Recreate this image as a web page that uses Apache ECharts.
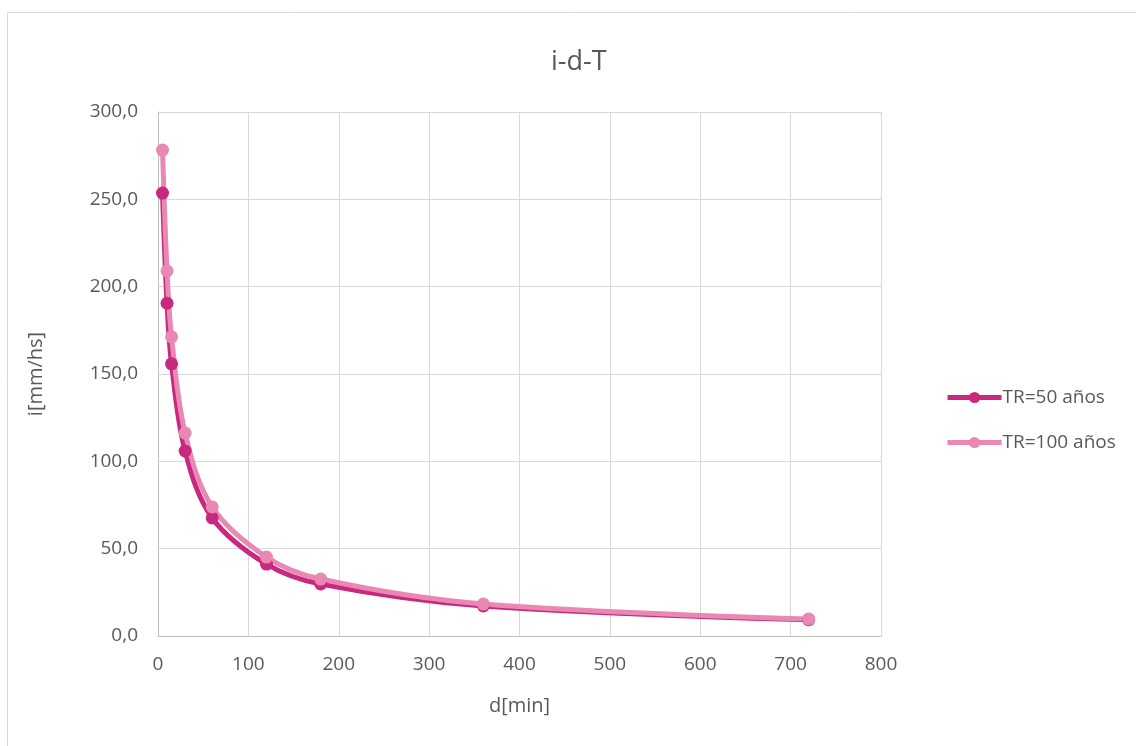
<!DOCTYPE html>
<html><head><meta charset="utf-8">
<script src="https://cdn.jsdelivr.net/npm/echarts@6/dist/echarts.min.js"></script>
<style>html,body{margin:0;padding:0;background:#fff}#c{width:1136px;height:746px}</style>
</head><body><div id="c"></div>
<script>
const durations = [5, 10, 15, 30, 60, 120, 180, 360, 720];
const tr50 = [253.6, 190.5, 155.8, 105.9, 67.6, 41.2, 29.8, 17.2, 9.3];
const tr100 = [278.2, 209.0, 171.2, 116.2, 73.9, 45.2, 32.6, 18.3, 9.8];
const seriesNames = ['TR=50 años', 'TR=100 años'];
const colors = ['#C9287F', '#E988B3'];
const font = '"Open Sans", "Liberation Sans", sans-serif';
const chart = echarts.init(document.getElementById('c'));
const pairs = a => durations.map((d, i) => [d, a[i]]);
chart.setOption({
  animation: false,
  textStyle: {fontFamily: font},
  graphic: [{type: 'rect', shape: {x: 7.5, y: 12.5, width: 1140, height: 760}, style: {fill: 'none', stroke: '#D9D9D9', lineWidth: 1}, silent: true}],
  title: {text: 'i-d-T', left: 546, top: 44, textStyle: {fontFamily: font, fontSize: 27, fontWeight: 'normal', color: '#595959'}},
  grid: {left: 158, right: 255, top: 112, bottom: 110},
  legend: {orient: 'vertical', left: 940, top: 383, itemGap: 26, itemWidth: 54, itemHeight: 14,
    lineStyle: {width: 5},
    textStyle: {fontFamily: font, fontSize: 19, color: '#595959', padding: [0,0,0,-4]},
    data: seriesNames},
  xAxis: {type: 'value', min: 0, max: 800, interval: 100,
    name: 'd[min]', nameLocation: 'middle', nameGap: 60, nameTextStyle: {fontSize: 20, color: '#595959'},
    axisLine: {lineStyle: {color: '#BFBFBF', width: 1}}, axisTick: {show: false},
    axisLabel: {fontSize: 19, color: '#595959', margin: 19},
    splitLine: {lineStyle: {color: '#D9D9D9', width: 1}}},
  yAxis: {type: 'value', min: 0, max: 300, interval: 50,
    name: 'i[mm/hs]', nameLocation: 'middle', nameGap: 112, nameTextStyle: {fontSize: 20, color: '#595959'},
    axisLine: {show: true, lineStyle: {color: '#BFBFBF', width: 1}}, axisTick: {show: false},
    axisLabel: {fontSize: 19, color: '#595959', margin: 20, formatter: v => v.toFixed(1).replace('.', ',')},
    splitLine: {lineStyle: {color: '#D9D9D9', width: 1}}},
  series: [
    {name: seriesNames[0], type: 'line', data: pairs(tr50), smooth: 0.35, symbol: 'circle', symbolSize: 13,
      lineStyle: {width: 5, color: colors[0]}, itemStyle: {color: colors[0]}},
    {name: seriesNames[1], type: 'line', data: pairs(tr100), smooth: 0.35, symbol: 'circle', symbolSize: 13,
      lineStyle: {width: 5, color: colors[1]}, itemStyle: {color: colors[1]}}
  ]
});
</script></body></html>
